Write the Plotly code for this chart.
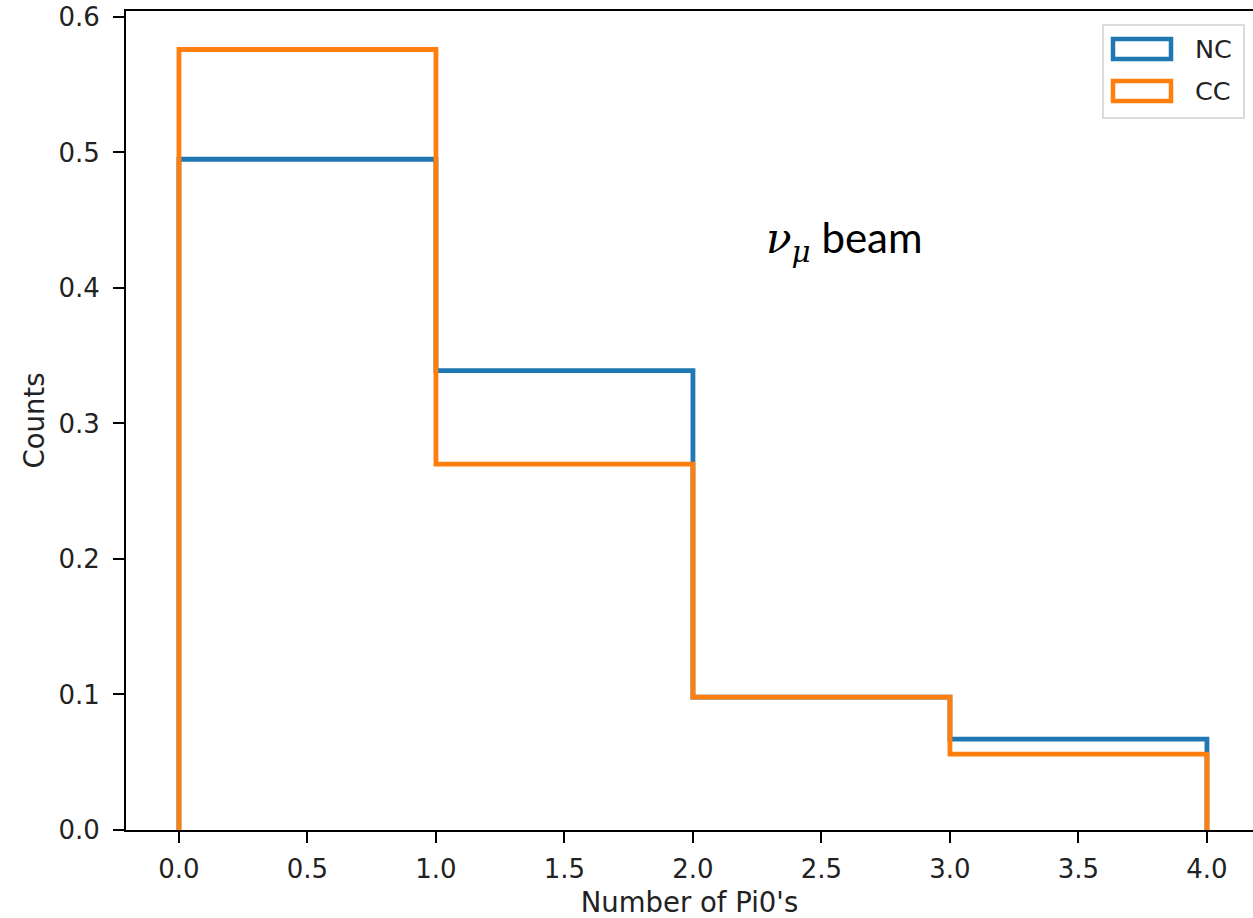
import plotly.graph_objects as go

# ---- data ----
bin_edges = [0, 1, 2, 3, 4]
series_names = ["NC", "CC"]
nc_values = [0.495, 0.339, 0.098, 0.067]
cc_values = [0.576, 0.270, 0.098, 0.056]
series_colors = ["#1f77b4", "#ff7f0e"]
x_ticks = [0.0, 0.5, 1.0, 1.5, 2.0, 2.5, 3.0, 3.5, 4.0]
y_ticks = [0.0, 0.1, 0.2, 0.3, 0.4, 0.5, 0.6]

W, H = 1253, 918
L, R, T, B = 126, 0, 11, 88
PW, PH = W - L - R, H - T - B
X0 = -0.206
XSCALE = 257.0


def px(x):
    return (x - L) / PW


def py(y):
    return (H - B - y) / PH


def step_outline(edges, vals):
    xs = [edges[0]]
    ys = [0]
    for i, v in enumerate(vals):
        xs += [edges[i], edges[i + 1]]
        ys += [v, v]
    xs.append(edges[-1])
    ys.append(0)
    return xs, ys


fig = go.Figure()
for name, vals, col in zip(series_names, [nc_values, cc_values], series_colors):
    xs, ys = step_outline(bin_edges, vals)
    fig.add_trace(go.Scatter(x=xs, y=ys, mode="lines", name=name,
                             line=dict(color=col, width=4.8),
                             showlegend=False, cliponaxis=False))

font_tick = dict(family="DejaVu Sans", size=26, color="#222222")
font_title = dict(family="DejaVu Sans", size=27.5, color="#222222")

fig.update_layout(
    width=W, height=H,
    margin=dict(l=L, r=R, t=T, b=B, autoexpand=False),
    paper_bgcolor="white", plot_bgcolor="white",
    xaxis=dict(range=[X0, X0 + PW / XSCALE], tickvals=x_ticks,
               ticktext=[f"{v:.1f}" for v in x_ticks],
               showgrid=False, zeroline=False, showline=True, mirror=True,
               linecolor="black", linewidth=2, ticks="outside", ticklen=11,
               tickwidth=2, tickcolor="black", tickfont=font_tick,
               ticklabelstandoff=4,
               title=dict(text="Number of Pi0's", font=font_title, standoff=12),
               automargin=False),
    yaxis=dict(range=[0, 0.6044], tickvals=y_ticks,
               ticktext=[f"{v:.1f}" for v in y_ticks],
               showgrid=False, zeroline=False, showline=True, mirror=False,
               linecolor="black", linewidth=2, ticks="outside", ticklen=11,
               tickwidth=2, tickcolor="black", tickfont=font_tick,
               ticklabelstandoff=8,
               title=dict(text="Counts", font=font_title, standoff=6),
               automargin=False),
)

# legend box (matplotlib style)
fig.add_shape(type="rect", xref="paper", yref="paper",
              x0=px(1103), x1=px(1244), y0=py(118), y1=py(25),
              line=dict(color="#d0d0d0", width=1.5), fillcolor="rgba(255,255,255,0.8)")
patch_centers = [49, 91]
for name, col, cy in zip(series_names, series_colors, patch_centers):
    fig.add_shape(type="rect", xref="paper", yref="paper",
                  x0=px(1113), x1=px(1171), y0=py(cy + 10), y1=py(cy - 10),
                  line=dict(color=col, width=4.5), fillcolor="rgba(0,0,0,0)")
    fig.add_annotation(xref="paper", yref="paper", x=px(1193), y=py(cy),
                       xanchor="left", yanchor="middle", text=name,
                       showarrow=False,
                       font=dict(family="DejaVu Sans", size=25.5, color="#222222"))

fig.add_annotation(xref="paper", yref="paper", x=px(764), y=py(240),
                   xanchor="left", yanchor="middle", showarrow=False,
                   text="<span style=\"font-family:'DejaVu Serif'\"><i>ν</i><sub><i>μ</i></sub></span> beam",
                   font=dict(family="Lato", size=42, color="black"))

fig.write_html("out.html")
